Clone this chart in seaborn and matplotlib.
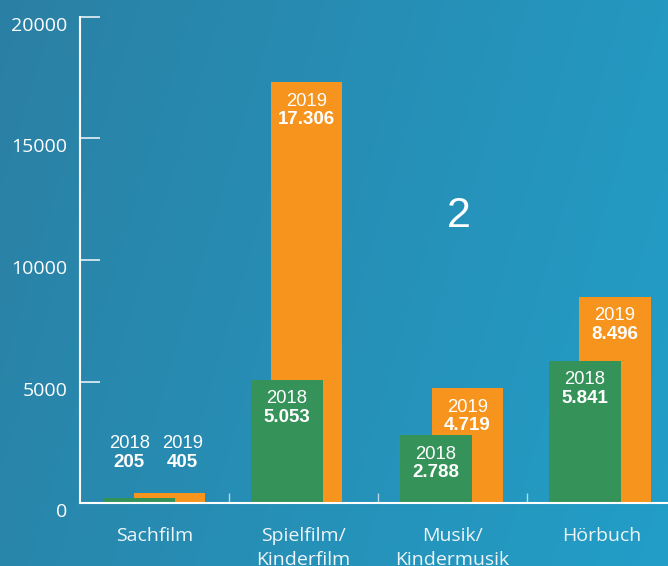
import numpy as np
import pandas as pd
import matplotlib
matplotlib.use('Agg')
import matplotlib.pyplot as plt
import matplotlib.transforms as mtransforms
import seaborn as sns

categories = ['Sachfilm', 'Spielfilm/\nKinderfilm', 'Musik/\nKindermusik', 'Hörbuch']
sales_2018 = [205, 5053, 2788, 5841]
sales_2019 = [405, 17306, 4719, 8496]
yticks = [0, 5000, 10000, 15000, 20000]

green = '#35935a'
orange = '#f7941d'

# verschiebung der balken (in kategorie-einheiten)
shift_2018 = [-0.1, -0.11, -0.11, -0.11]
shift_2019 = [0.1, 0.02, 0.1, 0.09]

df = pd.DataFrame({'Kategorie': categories, '2018': sales_2018, '2019': sales_2019})

def fmt(v):
    return f'{v:,}'.replace(',', '.')

sns.set_style('white')
plt.rcParams['font.family'] = ['Open Sans', 'DejaVu Sans']

fig = plt.figure(figsize=(6.68, 5.66), dpi=100)

# hintergrund verlauf
bg = fig.add_axes([0, 0, 1, 1], zorder=-5)
xx = np.linspace(0, 1, 200)
yy = np.linspace(0, 1, 200)
gx, gy = np.meshgrid(xx, yy)
c_left = np.array([0x2b, 0x80, 0xa4]) / 255
c_right = np.array([0x22, 0x9e, 0xc8]) / 255
t = np.clip(0.8 * gx + 0.2 * (1 - gy), 0, 1)[..., None]
img = c_left * (1 - t) + c_right * t
bg.imshow(img, aspect='auto', extent=[0, 1, 0, 1], origin='lower')
bg.axis('off')

ax = fig.add_axes([80 / 668, 63 / 566, 588 / 668, 486 / 566])
ax.set_facecolor('none')

sns.barplot(data=df, x='Kategorie', y='2019', color=orange, width=0.48,
            errorbar=None, saturation=1, linewidth=0, ax=ax)
n = len(categories)
for i, p in enumerate(ax.patches[:n]):
    p.set_x(p.get_x() + shift_2019[i])
sns.barplot(data=df, x='Kategorie', y='2018', color=green, width=0.48,
            errorbar=None, saturation=1, linewidth=0, ax=ax)
for i, p in enumerate(ax.patches[n:]):
    p.set_x(p.get_x() + shift_2018[i])

lab_font = ['Liberation Sans', 'DejaVu Sans']
for i, p in enumerate(ax.patches):
    year = '2019' if i < n else '2018'
    val = sales_2019[i] if i < n else sales_2018[i - n]
    cx = p.get_x() + p.get_width() / 2
    top = p.get_height()
    if val < 1000:
        # kleine werte: beschriftung ueber dem balken
        x = cx - 0.07 if year == '2018' else cx + 0.09
        ax.text(x, 2460, year, ha='center', va='center', color='white',
                fontsize=13.3, family=lab_font)
        ax.text(x, 1650, fmt(val), ha='center', va='center', color='white',
                fontsize=13.5, fontweight='bold', family=lab_font)
    else:
        ax.annotate(year, (cx, top), xytext=(0, -13.5), textcoords='offset points',
                    ha='center', va='center', color='white', fontsize=13.3, family=lab_font)
        ax.annotate(fmt(val), (cx, top), xytext=(0, -27), textcoords='offset points',
                    ha='center', va='center', color='white', fontsize=13.5,
                    fontweight='bold', family=lab_font)

ax.set_ylim(0, 20000)
ax.set_xlim(-0.5, 3.5 - 8 / 149)
ax.set_yticks(yticks)
ax.set_yticklabels([str(v) for v in yticks])
ax.set_xlabel('')
ax.set_ylabel('')

for s in ['top', 'right']:
    ax.spines[s].set_visible(False)
for s in ['left', 'bottom']:
    ax.spines[s].set_color('white')
    ax.spines[s].set_linewidth(1.5)

ax.tick_params(axis='y', direction='in', length=14.4, width=1.2, color='#e6f0f4',
               labelcolor='white', labelsize=14, pad=9, left=True)
# y-beschriftungen etwas unterhalb der striche
offset = mtransforms.ScaledTranslation(0, -7 / 100, fig.dpi_scale_trans)
for lbl in ax.get_yticklabels():
    lbl.set_transform(lbl.get_transform() + offset)
ax.tick_params(axis='x', which='major', length=0, labelcolor='#eef5f8',
               labelsize=14, pad=17, bottom=True)
for lbl in ax.get_xticklabels():
    lbl.set_linespacing(1.45)
ax.set_xticks([0.5, 1.5, 2.5], minor=True)
ax.tick_params(axis='x', which='minor', direction='in', length=7, width=1,
               color='#b8d8e4', bottom=True)

fig.text(458.5 / 668, 1 - 216 / 566, '2', ha='center', va='center', color='white',
         fontsize=31, family=lab_font)

fig.savefig('out.png', dpi=100)
